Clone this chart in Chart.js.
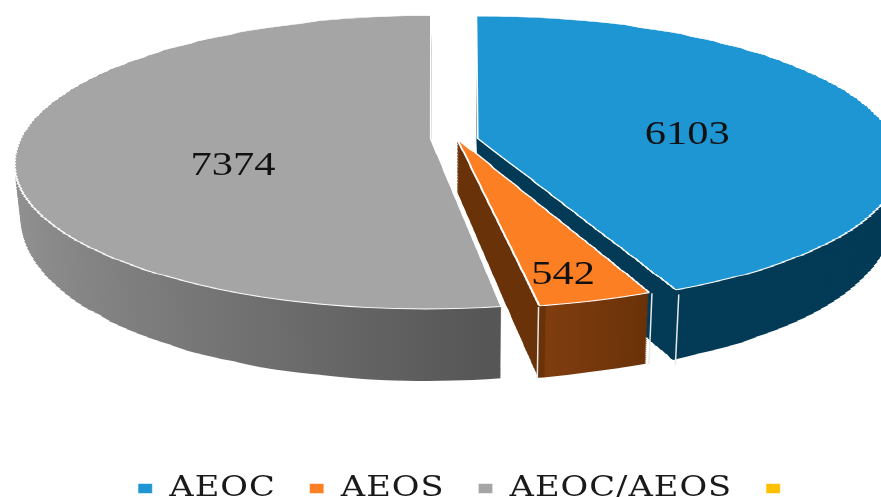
<!DOCTYPE html>
<html>
<head>
<meta charset="utf-8">
<script src="https://cdn.jsdelivr.net/npm/chart.js@4/dist/chart.umd.min.js"></script>
<style>
    html, body { margin: 0; padding: 0; background: #fff; overflow: hidden; }
    #frame { width: 881px; height: 497px; overflow: hidden; }
    #wrap { width: 881px; height: 512px; filter: blur(0.6px); }
</style>
</head>
<body>
<div id="frame"><div id="wrap"><canvas id="pieChart"></canvas></div></div>
<script>
const categories = ['AEOC', 'AEOS', 'AEOC/AEOS', ''];
const counts = [6103, 542, 7374, 0];
const topColors = ['#1e96d4', '#fd7f23', '#a5a5a5', '#ffc000'];
const sliceOffsets = [24, 10, 24, 0];

// disc plane in perspective: v runs back (-1) to front (+1), t is depth into the wall (0..1)
const CX = 454, CY = 138, DISC_W = 410, DISC_H = 142.7, PERSP = -0.16;
const WALL_BASE = 52, WALL_SLOPE = 20, WALL_SHRINK = 0.015;
const BANDS = 112, WALL_LAYERS = 36;
const sliceFit = [{ w: 1.04, h: 1.02, dy: 2 }, { w: 1.02, h: 1, dy: -3 }, { w: 1, h: 1, dy: 0 }, { w: 1, h: 1, dy: 0 }];
const labelNudge = [[5, 11], [42, 62], [8, 22], [0, 0]];
// the source legend text is stretched sideways
const LEGEND_STRETCH = 1.25, LEGEND_SHIFT = -83;

function fullRadius(el) { return el.outerRadius + (el.options.offset || 0) / 4; }
function screenY(v, t, fit) { return CY + fit.dy + DISC_H * fit.h * v / (1 + PERSP * v) + t * (WALL_BASE + WALL_SLOPE * v); }
function scaleX(v, t, fit) { return DISC_W * fit.w * (1 - WALL_SHRINK * t) / (1 + PERSP * v); }

// arc.draw() once per horizontal band, each band with its own affine step of the perspective
function drawSlice(ctx, el, i, t, fill, border) {
    const saved = el.options;
    const R = fullRadius(el);
    const fit = sliceFit[i];
    el.options = Object.assign({}, saved, fill ? { backgroundColor: fill } : {}, border ? {} : { borderWidth: 0 });
    const dv = 2.24 / BANDS;
    for (let b = 0; b < BANDS; b++) {
        const va = -1.12 + b * dv, vb = va + dv;
        const ya = Math.round(screenY(va, t, fit)), yb = Math.round(screenY(vb, t, fit));
        if (yb <= ya) continue;
        ctx.save();
        ctx.beginPath();
        ctx.rect(0, ya, 881, yb - ya);
        ctx.clip();
        ctx.translate(CX, ya);
        ctx.scale(scaleX((va + vb) / 2, t, fit) / R, (yb - ya) / (vb - va) / R);
        ctx.translate(-el.x, -el.y - va * R);
        el.draw(ctx);
        ctx.restore();
    }
    el.options = saved;
}

// screen position of a point on a slice, given its angle and radius share
function project(el, i, angle, share, t) {
    const half = (el.startAngle + el.endAngle) / 2;
    const off = (el.options.offset || 0) / 4;
    const R = fullRadius(el);
    const u = (Math.cos(angle) * R * share + Math.cos(half) * off) / R;
    const v = (Math.sin(angle) * R * share + Math.sin(half) * off) / R;
    return [CX + u * scaleX(v, t, sliceFit[i]), screenY(v, t, sliceFit[i])];
}

function wallFill(ctx, el, i) {
    if (i === 0) return '#033b57';
    const R = fullRadius(el);
    if (i === 1) {
        const g = ctx.createLinearGradient(el.x, 0, el.x + R * 0.4, 0);
        g.addColorStop(0, '#6a3208');
        g.addColorStop(0.44, '#6a3208');
        g.addColorStop(0.45, '#7f3d0f');
        g.addColorStop(1, '#693108');
        return g;
    }
    const g = ctx.createLinearGradient(el.x - R, 0, el.x + R * 0.12, 0);
    g.addColorStop(0, '#929292');
    g.addColorStop(1, '#565656');
    return g;
}

const pie3d = {
    id: 'pie3d',
    beforeLayout(chart) { chart.ctx.letterSpacing = '0.8px'; },
    beforeDraw(chart) {
        // only the legend is painted between here and beforeDatasetsDraw
        const ctx = chart.ctx;
        ctx.letterSpacing = '0.8px';
        ctx.save();
        ctx.translate(LEGEND_SHIFT, 0);
        ctx.scale(LEGEND_STRETCH, 1);
    },
    beforeDatasetsDraw(chart) {
        const ctx = chart.ctx;
        ctx.restore();
        const arcs = chart.getDatasetMeta(0).data;
        ctx.save();
        ctx.letterSpacing = '0px';

        // walls, back slice first
        [2, 0, 1].forEach(i => {
            const fill = wallFill(ctx, arcs[i], i);
            for (let l = WALL_LAYERS; l >= 1; l--) drawSlice(ctx, arcs[i], i, l / WALL_LAYERS, fill, false);
        });

        // light seams down the corners of the walls
        ctx.strokeStyle = '#e8e8e8';
        ctx.lineWidth = 1.5;
        [[0, arcs[0].endAngle], [1, arcs[1].startAngle], [1, arcs[1].endAngle]].forEach(([i, a]) => {
            const p0 = project(arcs[i], i, a, 1, 0), p1 = project(arcs[i], i, a, 1, 1);
            ctx.beginPath();
            ctx.moveTo(p0[0], p0[1]);
            ctx.lineTo(p1[0], p1[1]);
            ctx.stroke();
        });

        // top faces
        [2, 0, 1].forEach(i => drawSlice(ctx, arcs[i], i, 0, null, true));

        // value labels, stretched sideways like the source
        ctx.fillStyle = '#111';
        ctx.font = '34px "Liberation Serif"';
        ctx.textAlign = 'center';
        ctx.textBaseline = 'middle';
        arcs.forEach((el, i) => {
            if (!counts[i]) return;
            const [x, y] = project(el, i, (el.startAngle + el.endAngle) / 2, 0.5, 0);
            ctx.save();
            ctx.translate(x + labelNudge[i][0], y + labelNudge[i][1]);
            ctx.scale(1.25, 1);
            ctx.fillText(String(counts[i]), 0, 0);
            ctx.restore();
        });
        ctx.restore();
        return false;
    }
};

new Chart(document.getElementById('pieChart'), {
    type: 'pie',
    data: {
        labels: categories,
        datasets: [{
            data: counts,
            backgroundColor: topColors,
            borderColor: '#ffffff',
            borderWidth: 0.5,
            offset: sliceOffsets
        }]
    },
    options: {
        responsive: true,
        maintainAspectRatio: false,
        animation: false,
        events: [],
        radius: 100,
        plugins: {
            tooltip: { enabled: false },
            legend: {
                position: 'bottom',
                labels: {
                    boxWidth: 11.5,
                    boxHeight: 10,
                    padding: 27,
                    color: '#1a1a1a',
                    font: { family: '"DejaVu Serif"', size: 27 }
                }
            }
        }
    },
    plugins: [pie3d]
});
</script>
</body>
</html>
